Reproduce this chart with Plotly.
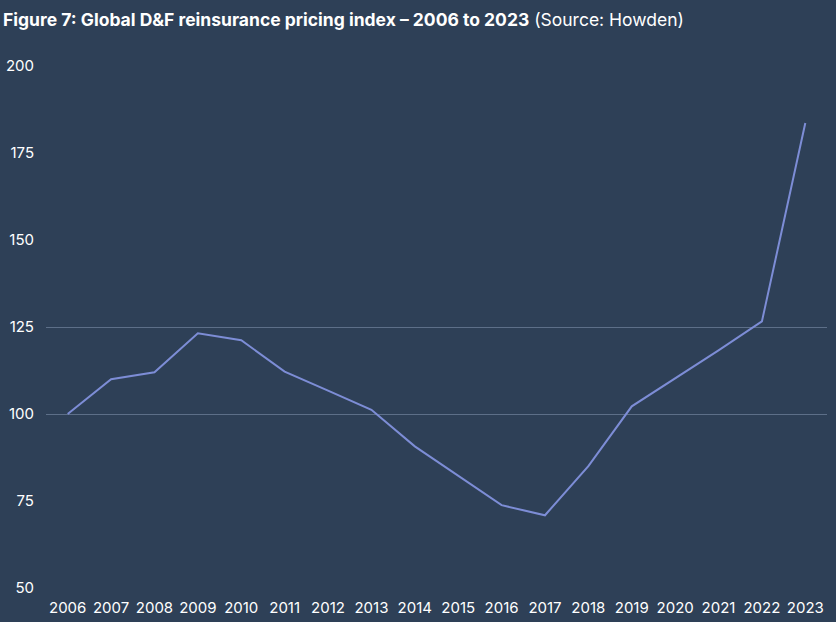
import plotly.graph_objects as go

years = [str(y) for y in range(2006, 2024)]
index_values = [100, 110, 112, 123.2, 121.2, 112.2, 106.7, 101.2, 90.7, 82.3,
                73.8, 70.9, 85.0, 102.2, 110.2, 118.3, 126.6, 183.6]
y_ticks = [50, 75, 100, 125, 150, 175, 200]
grid_values = [100, 125]

BG = "#2e4057"
LINE = "#7d8dd6"
GRID = "#5d6f88"
FONT = "Inter"

fig = go.Figure()
fig.add_trace(go.Scatter(x=years, y=index_values, mode="lines",
                         line=dict(color=LINE, width=2), yaxis="y", showlegend=False))
# invisible helper trace on the grid axis
fig.add_trace(go.Scatter(x=years, y=index_values, mode="lines",
                         line=dict(color="rgba(0,0,0,0)", width=0), yaxis="y2",
                         showlegend=False, hoverinfo="skip"))

fig.update_layout(
    width=836, height=622,
    paper_bgcolor=BG, plot_bgcolor=BG,
    margin=dict(l=46, r=9, t=66, b=34, autoexpand=False),
    font=dict(family=FONT, color="white", size=15),
    title=dict(
        text="<b>Figure 7: Global D&amp;F reinsurance pricing index – 2006 to 2023</b> (Source: Howden)",
        x=3 / 836, xanchor="left", xref="container",
        y=1 - 20 / 622, yanchor="middle", yref="container",
        font=dict(family=FONT, size=17.5, color="white"),
    ),
    xaxis=dict(type="category", range=[-0.5, 17.5], showgrid=False, zeroline=False,
               showline=False, ticks="outside", ticklen=6, tickcolor=BG, automargin=False,
               tickfont=dict(size=15, color="white")),
    yaxis=dict(range=[50, 200], tickvals=y_ticks, showgrid=False, zeroline=False,
               showline=False, ticks="outside", ticklen=8, tickcolor=BG, automargin=False,
               tickfont=dict(size=15, color="white")),
    yaxis2=dict(range=[50, 200], overlaying="y", tickvals=grid_values,
                showticklabels=False, showgrid=True, gridcolor=GRID, gridwidth=1,
                zeroline=False, showline=False, side="left", automargin=False),
)
fig.update_layout(yaxis2_layer="below traces")

fig.write_html(
    "out.html",
    config={"displayModeBar": False},
    post_script="document.body.style.margin='0';document.body.style.background='%s';" % BG,
)
